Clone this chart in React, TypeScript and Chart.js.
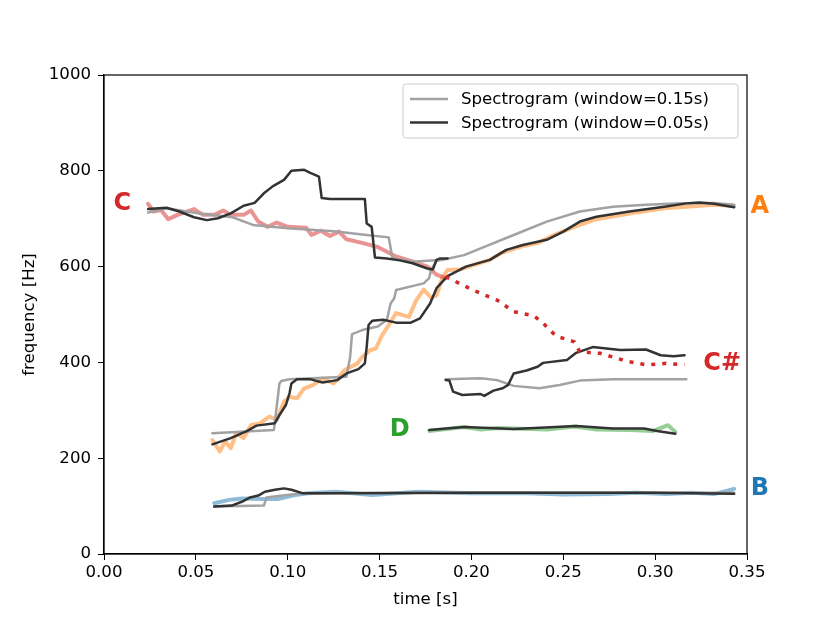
import { useEffect, useRef } from 'react'
import { Chart, registerables } from 'chart.js'
import type { ChartConfiguration, Plugin } from 'chart.js'

Chart.register(...registerables)

// [time (s), frequency (Hz)] pairs
const trueC = [[0.024, 731], [0.027, 715], [0.031, 718], [0.035, 699], [0.040, 708], [0.046, 716], [0.049, 720], [0.054, 708], [0.060, 708], [0.065, 717], [0.069, 708], [0.076, 708], [0.080, 717], [0.084, 694], [0.089, 683], [0.094, 692], [0.100, 683], [0.110, 681], [0.113, 666], [0.118, 675], [0.123, 664], [0.128, 673], [0.132, 657], [0.141, 649], [0.149, 641], [0.154, 631], [0.159, 621], [0.167, 612], [0.176, 600], [0.181, 583], [0.186, 576]]
const trueCsharp = [[0.186, 579], [0.196, 560], [0.205, 544], [0.214, 530], [0.223, 506], [0.234, 497], [0.239, 482], [0.246, 455], [0.256, 443], [0.259, 422], [0.270, 419], [0.285, 402], [0.295, 395], [0.306, 398], [0.316, 395]]
const trueA = [[0.059, 238], [0.063, 214], [0.066, 235], [0.069, 221], [0.072, 252], [0.076, 242], [0.080, 269], [0.085, 273], [0.090, 287], [0.094, 280], [0.098, 318], [0.101, 328], [0.105, 325], [0.109, 346], [0.114, 353], [0.119, 367], [0.125, 356], [0.131, 384], [0.138, 398], [0.140, 409], [0.145, 426], [0.148, 429], [0.151, 454], [0.155, 478], [0.159, 503], [0.166, 495], [0.170, 530], [0.174, 552], [0.178, 535], [0.181, 540], [0.184, 575], [0.187, 593], [0.194, 594], [0.201, 603], [0.210, 614], [0.216, 628], [0.227, 642], [0.236, 649], [0.245, 666], [0.256, 683], [0.268, 699], [0.286, 711], [0.305, 722], [0.317, 725], [0.332, 729], [0.343, 727]]
const trueD = [[0.177, 257], [0.196, 265], [0.205, 260], [0.215, 263], [0.223, 262], [0.241, 260], [0.256, 266], [0.268, 260], [0.286, 259], [0.299, 257], [0.307, 269], [0.311, 255]]
const trueB = [[0.060, 106], [0.068, 113], [0.075, 116], [0.086, 115], [0.095, 115], [0.104, 123], [0.111, 127], [0.126, 130], [0.146, 123], [0.171, 130], [0.200, 127], [0.230, 127], [0.250, 124], [0.274, 125], [0.290, 128], [0.306, 125], [0.320, 128], [0.332, 125], [0.343, 136]]

// spectrogram, window = 0.15 s
const wideC = [[0.024, 713], [0.034, 722], [0.052, 711], [0.070, 703], [0.081, 687], [0.100, 680], [0.125, 674], [0.143, 666], [0.155, 661], [0.157, 617], [0.161, 615], [0.168, 610], [0.176, 612], [0.183, 614]]
const wideA = [[0.059, 252], [0.0925, 259], [0.0955, 356], [0.0965, 361], [0.101, 365], [0.132, 370], [0.134, 412], [0.135, 459], [0.141, 468], [0.149, 475], [0.154, 489], [0.156, 523], [0.158, 534], [0.159, 551], [0.174, 565], [0.177, 576], [0.178, 593], [0.181, 612], [0.185, 615], [0.196, 624], [0.205, 638], [0.223, 666], [0.241, 694], [0.259, 715], [0.277, 725], [0.295, 729], [0.314, 732], [0.332, 733], [0.343, 729]]
const wideCsharp = [[0.186, 365], [0.205, 367], [0.214, 363], [0.223, 351], [0.237, 346], [0.248, 353], [0.259, 362], [0.277, 365], [0.317, 365]]
const wideB = [[0.060, 99], [0.087, 101], [0.0885, 118], [0.097, 122], [0.104, 125], [0.109, 127], [0.200, 128], [0.343, 128]]

// spectrogram, window = 0.05 s
const narrowC = [[0.024, 720], [0.034, 723], [0.041, 715], [0.049, 703], [0.056, 697], [0.062, 701], [0.069, 711], [0.076, 727], [0.082, 733], [0.087, 753], [0.092, 768], [0.098, 781], [0.102, 800], [0.109, 802], [0.112, 796], [0.117, 788], [0.1185, 743], [0.123, 741], [0.142, 741], [0.143, 690], [0.1457, 683], [0.1475, 619], [0.154, 617], [0.161, 613], [0.168, 607], [0.176, 596], [0.179, 594], [0.181, 614], [0.183, 617], [0.187, 617]]
const narrowA = [[0.059, 229], [0.069, 242], [0.078, 257], [0.083, 268], [0.093, 273], [0.095, 287], [0.099, 311], [0.101, 336], [0.102, 356], [0.105, 365], [0.112, 365], [0.119, 358], [0.127, 363], [0.132, 377], [0.1385, 386], [0.142, 398], [0.143, 433], [0.144, 478], [0.146, 487], [0.152, 489], [0.159, 483], [0.167, 483], [0.172, 492], [0.1775, 523], [0.181, 555], [0.187, 580], [0.197, 600], [0.210, 614], [0.219, 635], [0.228, 645], [0.241, 656], [0.250, 673], [0.259, 694], [0.268, 704], [0.286, 715], [0.305, 725], [0.317, 732], [0.324, 734], [0.332, 731], [0.343, 724]]
const narrowCsharp = [[0.186, 363], [0.188, 362], [0.190, 339], [0.195, 332], [0.205, 334], [0.207, 330], [0.212, 341], [0.217, 346], [0.220, 353], [0.223, 377], [0.230, 383], [0.236, 391], [0.239, 399], [0.252, 405], [0.257, 420], [0.266, 432], [0.281, 426], [0.295, 427], [0.303, 415], [0.310, 413], [0.316, 415]]
const narrowD = [[0.177, 259], [0.196, 265], [0.223, 261], [0.257, 267], [0.277, 262], [0.294, 262], [0.301, 257], [0.311, 251]]
const narrowB = [[0.060, 99], [0.0695, 101], [0.075, 109], [0.0795, 118], [0.084, 122], [0.0876, 130], [0.093, 134], [0.098, 137], [0.102, 134], [0.108, 127], [0.122, 127], [0.200, 128], [0.300, 128], [0.343, 126]]

const noteNames = ['C', 'A', 'C#', 'D', 'B']
const noteTimes = [0.01, 0.357, 0.3365, 0.161, 0.357]
const noteFreqs = [731, 724, 397, 259, 136]
const noteColors = ['#d62728', '#ff7f0e', '#d62728', '#2ca02c', '#1f77b4']

const legendLabels = ['Spectrogram (window=0.15s)', 'Spectrogram (window=0.05s)']

const GRAY = '#a2a2a2'
const DARK = '#333333'
const FONT = 'DejaVu Sans'

const pts = (arr: number[][]) => arr.map(([x, y]) => ({ x, y }))

const line = (data: number[][], color: string, width: number, dash: number[] = []) => ({
  data: pts(data),
  borderColor: color,
  borderWidth: width,
  borderDash: dash,
  borderCapStyle: (dash.length ? 'butt' : 'round') as CanvasLineCap,
  borderJoinStyle: 'round' as CanvasLineJoin,
  pointRadius: 0,
  fill: false,
  tension: 0,
})

const overlay: Plugin<'line'> = {
  id: 'overlay',
  afterDatasetsDraw(chart) {
    const { ctx, chartArea: a, scales } = chart
    const x = scales.x
    const y = scales.y
    ctx.save()

    // note names beside the tracks
    ctx.font = `bold 24px "${FONT}"`
    ctx.textAlign = 'center'
    ctx.textBaseline = 'middle'
    noteNames.forEach((n, i) => {
      ctx.fillStyle = noteColors[i]
      ctx.fillText(n, x.getPixelForValue(noteTimes[i]), y.getPixelForValue(noteFreqs[i]))
    })

    // full frame
    ctx.strokeStyle = '#000'
    ctx.lineWidth = 1.2
    ctx.strokeRect(a.left, a.top, a.right - a.left, a.bottom - a.top)

    // legend box, upper right
    const bw = 335
    const bh = 54
    const bx = a.right - 9 - bw
    const by = a.top + 9
    ctx.beginPath()
    ctx.roundRect(bx, by, bw, bh, 3)
    ctx.fillStyle = 'rgba(255,255,255,0.8)'
    ctx.fill()
    ctx.strokeStyle = '#cccccc'
    ctx.lineWidth = 1
    ctx.stroke()
    ctx.font = `16.6px "${FONT}"`
    ctx.textAlign = 'left'
    const colors = [GRAY, DARK]
    legendLabels.forEach((label, i) => {
      const ly = by + 15 + i * 23.5
      ctx.strokeStyle = colors[i]
      ctx.lineWidth = 2.5
      ctx.beginPath()
      ctx.moveTo(bx + 7, ly)
      ctx.lineTo(bx + 45, ly)
      ctx.stroke()
      ctx.fillStyle = '#000'
      ctx.fillText(label, bx + 58, ly + 1)
    })
    ctx.restore()
  },
}

export default function App() {
  const canvasRef = useRef<HTMLCanvasElement>(null)

  useEffect(() => {
    if (!canvasRef.current) return

    const config: ChartConfiguration<'line'> = {
      type: 'line',
      data: {
        // first dataset is drawn on top
        datasets: [
          line(trueCsharp, '#d62728', 3.5, [4, 7]),
          line(narrowC, DARK, 2.5),
          line(narrowA, DARK, 2.5),
          line(narrowCsharp, DARK, 2.5),
          line(narrowD, DARK, 2.5),
          line(narrowB, DARK, 2.5),
          line(wideC, GRAY, 2.5),
          line(wideA, GRAY, 2.5),
          line(wideCsharp, GRAY, 2.5),
          line(wideB, GRAY, 2.5),
          line(trueC, 'rgba(214,39,40,0.5)', 4),
          line(trueA, 'rgba(255,127,14,0.5)', 4),
          line(trueD, 'rgba(44,160,44,0.5)', 4),
          line(trueB, 'rgba(31,119,180,0.5)', 4),
        ],
      },
      options: {
        responsive: false,
        animation: false,
        layout: { padding: { left: 0, right: 83, top: 75, bottom: 0 } },
        plugins: {
          legend: { display: false },
          tooltip: { enabled: false },
        },
        scales: {
          x: {
            type: 'linear',
            min: 0,
            max: 0.35,
            afterFit: (s) => { s.height = 69 },
            ticks: {
              stepSize: 0.05,
              color: '#000',
              padding: 3,
              font: { family: FONT, size: 16.6 },
              callback: (v) => Number(v).toFixed(2),
            },
            grid: { drawOnChartArea: false, tickLength: 6, color: '#000' },
            border: { color: '#000', width: 1.2 },
            title: {
              display: true,
              text: 'time [s]',
              color: '#000',
              font: { family: FONT, size: 16.6 },
              padding: { top: 0, bottom: 13 },
            },
          },
          y: {
            type: 'linear',
            min: 0,
            max: 1000,
            afterFit: (s) => { s.width = 104 },
            ticks: {
              stepSize: 200,
              color: '#000',
              padding: 7,
              font: { family: FONT, size: 16.6 },
              callback: (v) => String(Math.round(Number(v))),
            },
            grid: { drawOnChartArea: false, tickLength: 6, color: '#000' },
            border: { color: '#000', width: 1.2 },
            title: {
              display: true,
              text: 'frequency [Hz]',
              color: '#000',
              font: { family: FONT, size: 16.6 },
              padding: { top: 20, bottom: 0 },
            },
          },
        },
      },
      plugins: [overlay],
    }

    const chart = new Chart(canvasRef.current, config)
    return () => chart.destroy()
  }, [])

  return (
    <div style={{ position: 'absolute', left: 0, top: 0, width: 830, height: 623, background: '#fff' }}>
      <canvas ref={canvasRef} width={830} height={623} style={{ width: 830, height: 623 }} />
    </div>
  )
}
